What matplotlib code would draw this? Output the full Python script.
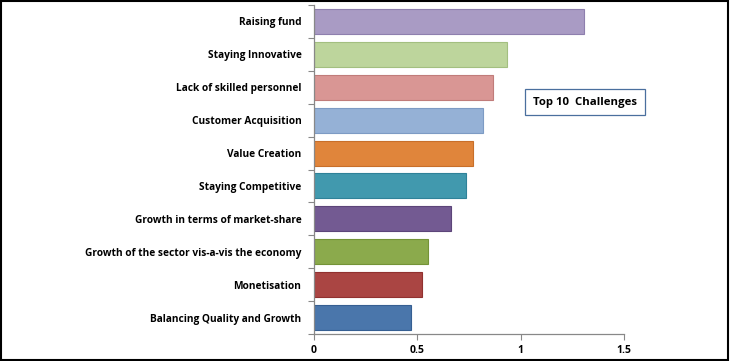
import matplotlib.pyplot as plt
import numpy as np

# top to bottom, as in the picture
challenges = [
    "Raising fund",
    "Staying Innovative",
    "Lack of skilled personnel",
    "Customer Acquisition",
    "Value Creation",
    "Staying Competitive",
    "Growth in terms of market-share",
    "Growth of the sector vis-a-vis the economy",
    "Monetisation",
    "Balancing Quality and Growth",
]
scores = [1.305, 0.934, 0.868, 0.816, 0.768, 0.735, 0.661, 0.552, 0.521, 0.468]
colors = ["#a99bc4", "#bdd59c", "#d99694", "#95b1d6", "#e0853b",
          "#4199ae", "#735a92", "#8baa4c", "#aa4543", "#4a76ab"]
edges = ["#8e7fae", "#a3bf80", "#c07c7a", "#7d9bc4", "#c86f2a",
         "#2f8299", "#5c4579", "#749337", "#913130", "#365f92"]
xticks = [0, 0.5, 1, 1.5]

plt.rcParams['font.family'] = ['Open Sans', 'DejaVu Sans']

fig = plt.figure(figsize=(7.3, 3.61), dpi=100)
ax = fig.add_axes([314 / 730, 27 / 361, 310 / 730, 329 / 361])

y = np.arange(len(challenges))
ax.barh(y, scores, height=0.76, color=colors, edgecolor=edges, linewidth=0.8)
ax.set_ylim(len(challenges) - 0.5, -0.5)
ax.set_xlim(0, 1.5)

ax.set_yticks(y)
ax.set_yticklabels(challenges, fontsize=7.3, fontweight='bold')
ax.set_yticks(np.arange(len(challenges) + 1) - 0.5, minor=True)
ax.tick_params(axis='y', which='major', length=0, pad=9)
ax.tick_params(axis='y', which='minor', length=4, color='#888888', width=0.8)

ax.set_xticks(xticks)
ax.set_xticklabels(["0", "0.5", "1", "1.5"], fontsize=7.5, fontweight='bold')
ax.tick_params(axis='x', length=4, color='#888888', width=0.8, pad=4)

for s in ['top', 'right']:
    ax.spines[s].set_visible(False)
for s in ['left', 'bottom']:
    ax.spines[s].set_color('#888888')
    ax.spines[s].set_linewidth(0.9)

fig.text(585 / 730, 1 - 102 / 361, "Top 10  Challenges", ha='center', va='center',
         fontsize=8.2, fontweight='bold',
         bbox=dict(boxstyle='square,pad=0.7', facecolor='white',
                   edgecolor='#4a6f9e', linewidth=0.9))

# outer frame
fig.patches.append(plt.Rectangle((0.002, 0.004), 0.995, 0.994, transform=fig.transFigure,
                                 fill=False, edgecolor='black', linewidth=1.5))

fig.savefig("out.png", dpi=100)
